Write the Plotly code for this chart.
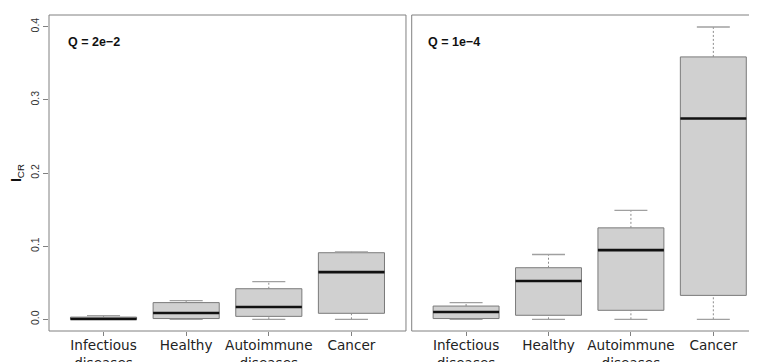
import plotly.graph_objects as go

categories = ["Infectious<br>diseases", "Healthy", "Autoimmune<br>diseases", "Cancer"]
positions = [1, 2, 3, 4]
panel_labels = ["Q = 2e\u22122", "Q = 1e\u22124"]

# Panel 1: Q = 2e-2
p1_lower = [0.0, 0.0, 0.0, 0.0]
p1_q1 = [0.0, 0.001, 0.004, 0.0082]
p1_median = [0.0005, 0.0086, 0.0168, 0.0645]
p1_q3 = [0.003, 0.0228, 0.0418, 0.091]
p1_upper = [0.005, 0.0255, 0.0514, 0.0923]

# Panel 2: Q = 1e-4
p2_lower = [0.0, 0.0, 0.0, 0.0]
p2_q1 = [0.001, 0.0055, 0.0123, 0.0327]
p2_median = [0.010, 0.0523, 0.0945, 0.2745]
p2_q3 = [0.0181, 0.0705, 0.125, 0.3587]
p2_upper = [0.0227, 0.0886, 0.149, 0.3996]

y_ticks = [0.0, 0.1, 0.2, 0.3, 0.4]
y_ticktext = ["0.0", "0.1", "0.2", "0.3", "0.4"]

BOX_W = 0.8
CAP_W = 0.4
FILL = "#D0D0D0"
EDGE = "#7a7a7a"
WHISK = "#8c8c8c"

fig = go.Figure()

panels = [
    ("x", "y", p1_lower, p1_q1, p1_median, p1_q3, p1_upper),
    ("x2", "y2", p2_lower, p2_q1, p2_median, p2_q3, p2_upper),
]

for xa, ya, lo, q1, med, q3, up in panels:
    # whiskers (dashed)
    wx, wy = [], []
    for p, a, b, c, d in zip(positions, lo, q1, q3, up):
        wx += [p, p, None, p, p, None]
        wy += [a, b, None, c, d, None]
    fig.add_trace(go.Scatter(x=wx, y=wy, mode="lines", xaxis=xa, yaxis=ya,
                             line=dict(color=WHISK, width=1, dash="2px,2px"),
                             hoverinfo="skip", showlegend=False))
    # staples
    cx, cy = [], []
    for p, a, d in zip(positions, lo, up):
        cx += [p - CAP_W / 2, p + CAP_W / 2, None, p - CAP_W / 2, p + CAP_W / 2, None]
        cy += [a, a, None, d, d, None]
    fig.add_trace(go.Scatter(x=cx, y=cy, mode="lines", xaxis=xa, yaxis=ya,
                             line=dict(color="#a0a0a0", width=1.3),
                             hoverinfo="skip", showlegend=False))
    # boxes
    fig.add_trace(go.Box(x=positions, q1=q1, median=med, q3=q3,
                         lowerfence=q1, upperfence=q3, width=BOX_W,
                         whiskerwidth=0, boxpoints=False,
                         fillcolor=FILL, line=dict(color=EDGE, width=1),
                         xaxis=xa, yaxis=ya, showlegend=False))
    # medians
    mx, my = [], []
    for p, m in zip(positions, med):
        mx += [p - BOX_W / 2, p + BOX_W / 2, None]
        my += [m, m, None]
    fig.add_trace(go.Scatter(x=mx, y=my, mode="lines", xaxis=xa, yaxis=ya,
                             line=dict(color="#111111", width=2.6),
                             hoverinfo="skip", showlegend=False))

axis_font = dict(family="DejaVu Sans", size=13.6, color="#222222")
xcommon = dict(tickvals=positions, ticktext=categories, ticks="outside", ticklen=4,
               tickcolor="#808080", showgrid=False, zeroline=False, showline=False,
               tickfont=axis_font, automargin=False, ticklabelstandoff=-2)

# page has an 8px body margin, so the figure is sized to fit the window inside it
fig.update_layout(
    width=749, height=354,
    margin=dict(l=41, r=0, t=7, b=31),
    plot_bgcolor="white", paper_bgcolor="white",
    xaxis=dict(domain=[0, 0.5042], range=[0.34, 4.66], anchor="y", **xcommon),
    xaxis2=dict(domain=[0.5123, 1.0], range=[0.34, 4.53], anchor="y2", **xcommon),
    yaxis=dict(range=[-0.016, 0.416], tickvals=y_ticks, ticktext=y_ticktext,
               tickangle=-90, ticks="outside", ticklen=5, tickcolor="#808080",
               showgrid=False, zeroline=False, showline=False, automargin=False,
               tickfont=dict(family="Liberation Sans", size=10.5, color="#333333"),
               title=dict(text="<b>I</b><sub>CR</sub>", standoff=6,
                          font=dict(family="Liberation Sans", size=14, color="#111111"))),
    yaxis2=dict(range=[-0.016, 0.416], anchor="x2", showticklabels=False, ticks="",
                showgrid=False, zeroline=False, showline=False, automargin=False),
    shapes=[
        dict(type="rect", xref="x domain", yref="y domain", x0=0, x1=1, y0=0, y1=1,
             line=dict(color="#808080", width=1)),
        dict(type="rect", xref="x2 domain", yref="y2 domain", x0=0, x1=1.05, y0=0, y1=1,
             line=dict(color="#808080", width=1)),
    ],
    annotations=[
        dict(text="<b>" + panel_labels[0] + "</b>", xref="x domain", yref="y domain",
             x=0.047, y=0.915, xanchor="left", yanchor="middle", showarrow=False,
             font=dict(family="Liberation Sans", size=12.5, color="#111111")),
        dict(text="<b>" + panel_labels[1] + "</b>", xref="x2 domain", yref="y2 domain",
             x=0.04, y=0.915, xanchor="left", yanchor="middle", showarrow=False,
             font=dict(family="Liberation Sans", size=12.5, color="#111111")),
    ],
)

fig.write_html("out.html")
